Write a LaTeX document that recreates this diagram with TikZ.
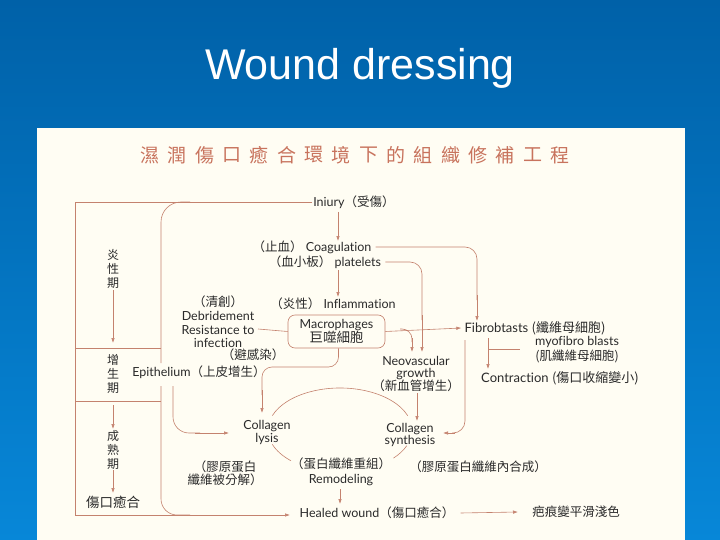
\documentclass[tikz,border=0pt]{standalone}
\usepackage{fontspec}
\setmainfont{Lato}[Ligatures={NoCommon}]
\newfontfamily\cjk{Noto Sans CJK TC}
\newfontfamily\titlefont{Liberation Sans}
\usetikzlibrary{arrows.meta,calc}
\definecolor{bgtop}{HTML}{0061A8}
\definecolor{bgbot}{HTML}{0787D8}
\definecolor{panel}{HTML}{FFFDF3}
\definecolor{lnc}{HTML}{C4826E}
\definecolor{txc}{HTML}{2A2A2A}
\definecolor{ttc}{HTML}{C8735D}
\tikzset{
  lc/.style={draw=lnc, line width=0.6pt},
  arr/.style={lc, -{Latex[length=5pt,width=3.5pt]}},
  tx/.style={text=txc, font=\fontsize{12.5}{13.7}\selectfont, inner sep=1pt, align=center},
  vt/.style={text=txc, font=\cjk\fontsize{12}{14}\selectfont, inner sep=1pt, align=center},
}
\begin{document}
\begin{tikzpicture}[x=1pt,y=-1pt]
\useasboundingbox (0,0) rectangle (720,540);
\shade[top color=bgtop, bottom color=bgbot] (0,0) rectangle (720,540);
\fill[panel] (37,128) rectangle (685,540);
\node[text=white, font=\titlefont\fontsize{43}{46}\selectfont] (title) at (360,68) {Wound dressing};
% Chinese heading
\foreach \c [count=\i from 0] in {濕,潤,傷,口,癒,合,環,境,下,的,組,織,修,補,工,程}
  \node[text=ttc, font=\cjk\fontsize{19}{20}\selectfont, inner sep=0pt] (h\i) at (150+27.33*\i,155) {\c};
% left phase labels
\node[vt] (p1) at (113,269) {炎\\性\\期};
\node[vt] (p2) at (113,374) {增\\生\\期};
\node[vt] (p3) at (113,450) {成\\熟\\期};
\node[vt, font=\cjk\fontsize{13.5}{14}\selectfont] (p4) at (113,502) {傷口癒合};
% main nodes
\node[tx] (inj) at (354,202) {Iniury{\cjk（受傷）}};
\node[tx] (coag) at (312,247) {{\cjk（止血）} Coagulation};
\node[tx] (plat) at (325,262) {{\cjk（血小板）} platelets};
\node[tx] (infl) at (333,304) {{\cjk（炎性）} Inflammation};
\node[tx, draw=lnc, line width=0.6pt, rounded corners=7pt, minimum width=97pt, minimum height=33pt] (mac) at (336.5,331.5) {Macrophages\\[0pt]{\cjk\fontsize{13.5}{14}\selectfont 巨噬細胞}};
\node[tx] (debr) at (218,322) {{\cjk（清創）}\\Debridement\\Resistance to\\infection};
\node[tx] (avoid) at (253,355) {\cjk（避感染）};
\node[tx] (epi) at (199,372) {Epithelium{\cjk（上皮增生）}};
\node[tx, font=\fontsize{13}{14}\selectfont] (fib) at (535,328) {Fibrobtasts {\cjk (纖維母細胞)}};
\node[tx, font=\fontsize{12.5}{15}\selectfont] (myo) at (577,350) {myofibro blasts\\{\cjk (肌纖維母細胞)}};
\node[tx, font=\fontsize{13}{14}\selectfont] (con) at (560,378) {Contraction {\cjk (傷口收縮變小)}};
\node[tx, font=\fontsize{12.5}{12}\selectfont] (neo) at (416,374) {Neovascular\\growth\\{\cjk（新血管增生）}};
\node[tx, font=\fontsize{12.5}{13}\selectfont] (lys) at (267,432) {Collagen\\lysis};
\node[tx, font=\fontsize{12.5}{11.5}\selectfont] (syn) at (410,435) {Collagen\\synthesis};
\node[tx] (synzh) at (478,467) {\cjk（膠原蛋白纖維內合成）};
\node[tx, font=\fontsize{12.5}{13}\selectfont] (lyszh) at (225,473) {\cjk（膠原蛋白\\\cjk 纖維被分解）};
\node[tx, font=\fontsize{12.5}{15}\selectfont] (rem) at (341,472) {{\cjk（蛋白纖維重組）}\\Remodeling};
\node[tx] (heal) at (377,513) {Healed wound{\cjk（傷口癒合）}};
\node[tx] (scar) at (576,512) {\cjk 疤痕變平滑淺色};
% coordinates
\coordinate (c1) at (75,202);
\coordinate (c2) at (75,515);
\coordinate (c3) at (161,348);
\coordinate (c4) at (161,401);
% frame
\draw[lc] (inj.west) -- (c1) -- (c2);
\draw[arr] (c2) -- (290,515);
\draw[lc] (75,348) -- (c3);
\draw[lc] (75,401) -- (c4);
\draw[lc, rounded corners=16pt] (161,386) -- (161,515) -- (190,515);
\draw[lc, rounded corners=20pt] (190,202) -- (161,202) -- (161,363);
\draw[lc, rounded corners=16pt] (173,386) -- (173,433) -- (200,433);
\draw[arr] (195,433) -- (229,433);
% phase arrows
\draw[arr] (113,290) -- (113,343);
\draw[arr] (113,405) -- (113,429);
\draw[arr] (113,470) -- (113,493);
% flow
\draw[arr] (338,212) -- (338,241);
\draw[arr] (338,270) -- (338,297);
\draw[lc, rounded corners=12pt] (coag.east) ++(3,0) -- (477,247) -- (477,300);
\draw[arr] (477,295) -- (477,321);
\draw[lc, rounded corners=12pt] (plat.east) ++(3,0) -- (422,262) -- (422,320);
\draw[arr] (422,315) -- (422,352);
\draw[arr] (mac.east) -- ($(fib.west)+(-2,0)$);
\draw[lc, rounded corners=10pt] (400,329) -- (412,329) -- (412,342);
\draw[arr] (412,338) -- (412,352);
\draw[lc] (258,329) -- (mac.west);
\draw[lc, rounded corners=10pt] (mac.south) ++(2,0) -- (338.5,367) -- (262,367) -- (262,395);
\draw[arr] (262,390) -- (262,413);
\draw[arr] (417,393) -- (417,421);
\draw[lc, rounded corners=12pt] (465,340) -- (465,433) -- (452,433);
\draw[arr] (455,433) -- (443,433);
\draw[arr] (488,338) -- (488,369);
\draw[lc] (488,349) -- (520,349);
\draw[arr] (340,489) -- (340,504);
\draw[arr] (heal.east) ++(5,0) -- (518,512);
% collagen cycle
\draw[lc] (340,430) ++(200:72 and 42) arc[start angle=200, end angle=340, x radius=72, y radius=42];
\draw[lc] (340,430) ++(160:72 and 42) arc[start angle=160, end angle=133, x radius=72, y radius=42];
\draw[lc] (340,430) ++(22:72 and 42) arc[start angle=22, end angle=42, x radius=72, y radius=42];
\end{tikzpicture}
\end{document}
